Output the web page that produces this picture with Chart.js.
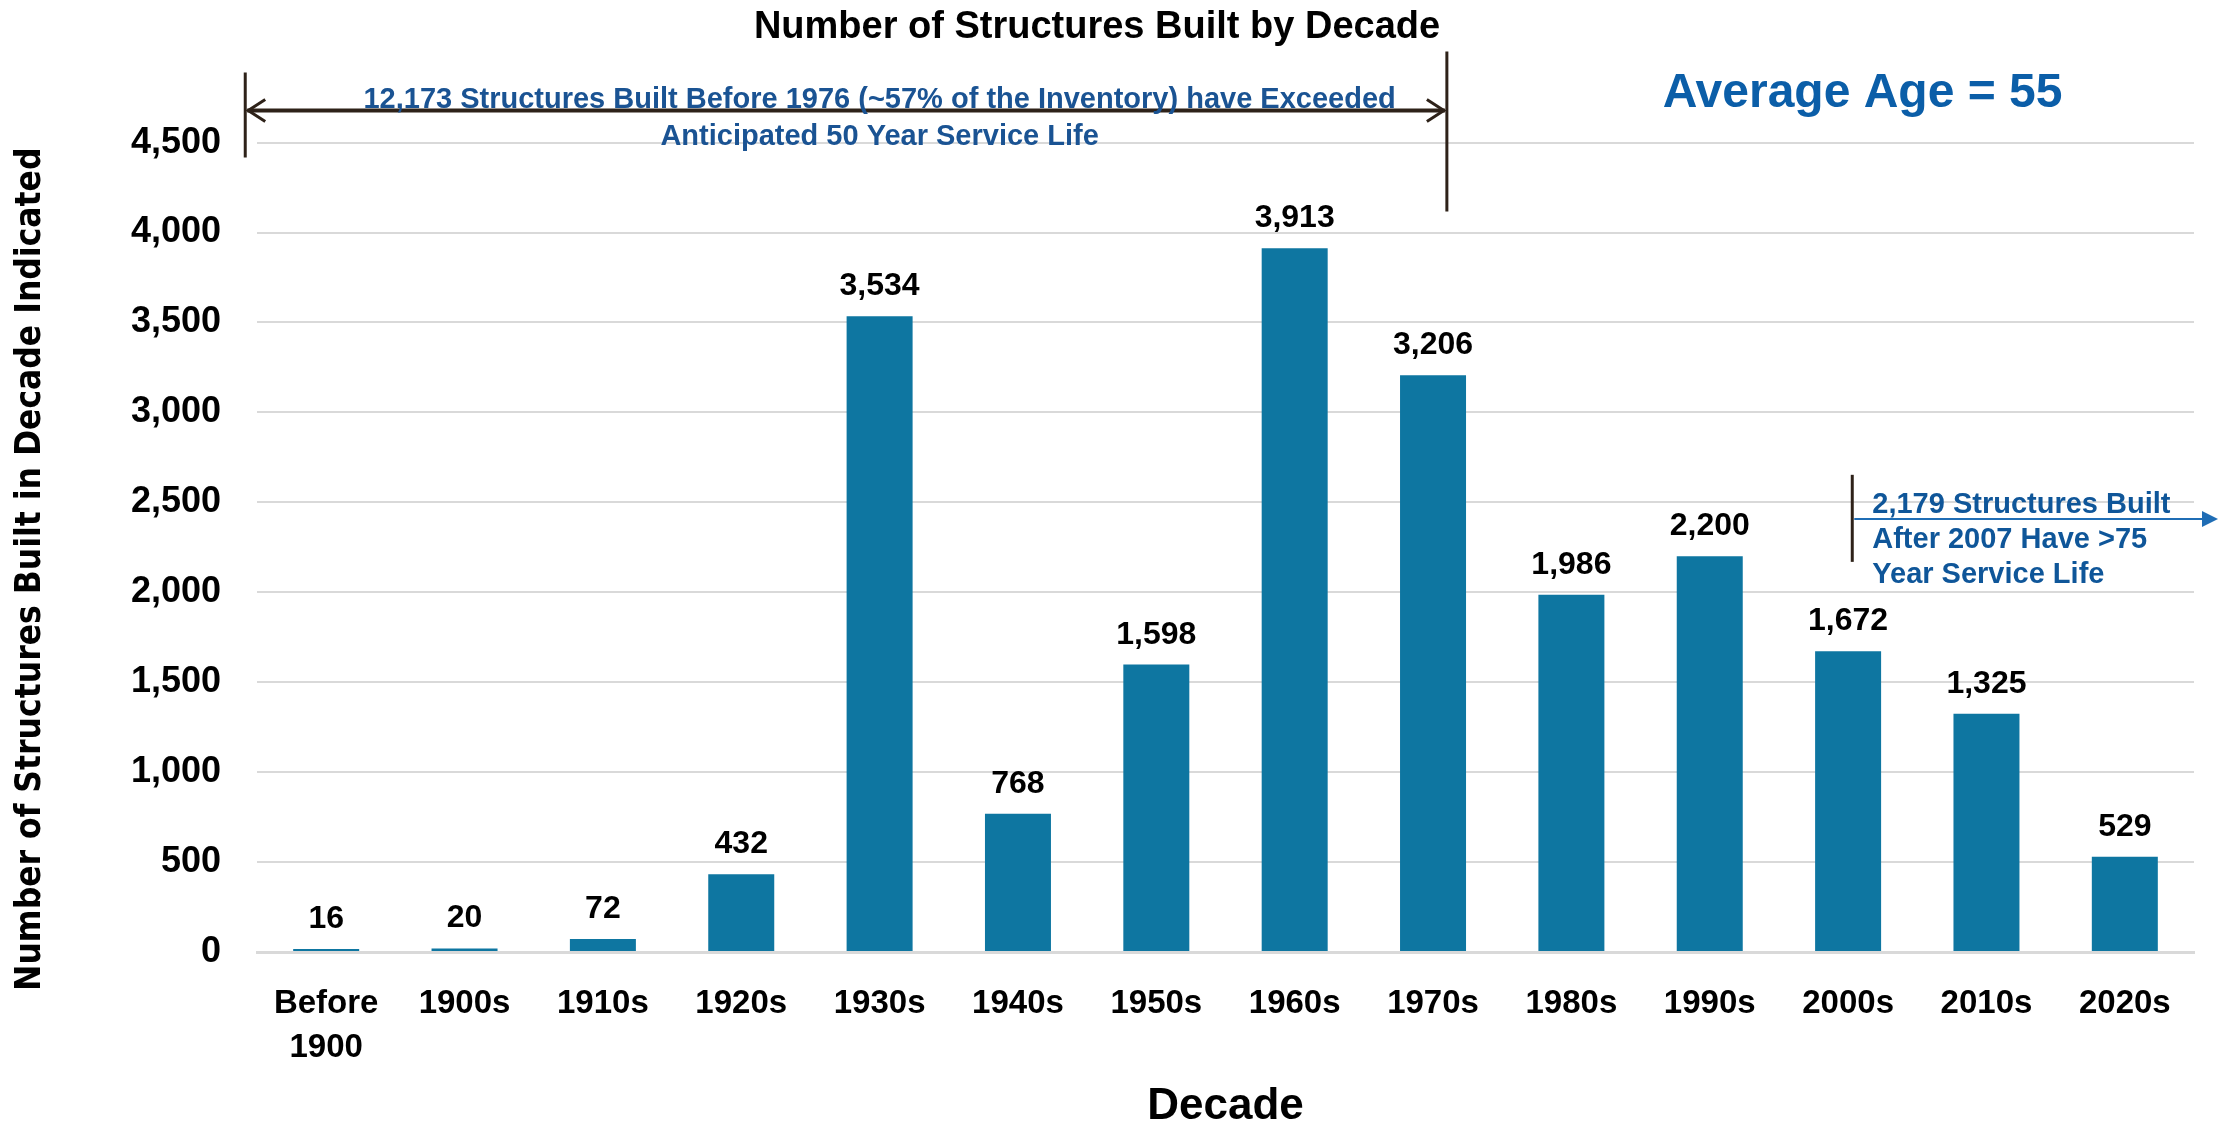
<!DOCTYPE html>
<html>
<head>
<meta charset="utf-8">
<script src="https://cdn.jsdelivr.net/npm/chart.js@4.4.1/dist/chart.umd.min.js"></script>
<style>
  html, body { margin: 0; padding: 0; background: #ffffff; }
  #wrap { width: 2220px; height: 1133px; position: relative; }
</style>
</head>
<body>
<div id="wrap"><canvas id="c"></canvas></div>
<script>
// ---- Data ----
const categories = [['Before', '1900'], '1900s', '1910s', '1920s', '1930s', '1940s', '1950s', '1960s', '1970s', '1980s', '1990s', '2000s', '2010s', '2020s'];
const structuresBuilt = [16, 20, 72, 432, 3534, 768, 1598, 3913, 3206, 1986, 2200, 1672, 1325, 529];
const yTicks = [0, 500, 1000, 1500, 2000, 2500, 3000, 3500, 4000, 4500];
const chartTitle = 'Number of Structures Built by Decade';
const xAxisTitle = 'Decade';
const yAxisTitle = 'Number of Structures Built in Decade Indicated';
const leftNoteLines = ['12,173 Structures Built Before 1976 (~57% of the Inventory) have Exceeded', 'Anticipated 50 Year Service Life'];
const rightNoteLines = ['2,179 Structures Built', 'After 2007 Have >75', 'Year Service Life'];
const averageAgeText = 'Average Age = 55';

const FONT = "'Liberation Sans', Arial, Helvetica, sans-serif";
const NARROW = "'Liberation Sans Narrow', 'Arial Narrow', 'DejaVu Sans Condensed', sans-serif";
const fmt = v => Number(v).toLocaleString('en-US');

const annotations = {
  id: 'annotations',
  afterDatasetsDraw(chart) {
    const { ctx, chartArea, scales: { x, y } } = chart;
    ctx.save();

    // Data labels above bars
    const meta = chart.getDatasetMeta(0);
    ctx.font = 'bold 32px ' + FONT;
    ctx.fillStyle = '#000000';
    ctx.textAlign = 'center';
    ctx.textBaseline = 'alphabetic';
    meta.data.forEach((bar, i) => {
      ctx.fillText(fmt(structuresBuilt[i]), bar.x, bar.y - 21);
    });

    // Left bracket with double arrow
    const top = chartArea.top;
    const xL = x.getPixelForValue(-0.585);
    const xR = x.getPixelForValue(8.1);
    const yArrow = top - 32;
    ctx.strokeStyle = '#2E2219';
    ctx.lineCap = 'butt';
    ctx.lineWidth = 3;
    ctx.beginPath();
    ctx.moveTo(xL, top - 70); ctx.lineTo(xL, top + 15);
    ctx.moveTo(xR, top - 91); ctx.lineTo(xR, top + 69);
    ctx.stroke();
    ctx.lineWidth = 4;
    ctx.beginPath();
    ctx.moveTo(xL + 2, yArrow); ctx.lineTo(xR - 2, yArrow);
    ctx.stroke();
    ctx.lineWidth = 3;
    ctx.beginPath();
    ctx.moveTo(xL + 20, yArrow - 11); ctx.lineTo(xL + 3, yArrow); ctx.lineTo(xL + 20, yArrow + 11);
    ctx.moveTo(xR - 20, yArrow - 11); ctx.lineTo(xR - 3, yArrow); ctx.lineTo(xR - 20, yArrow + 11);
    ctx.stroke();

    // Left note text
    ctx.fillStyle = '#1A5393';
    ctx.font = 'bold 29px ' + FONT;
    ctx.textAlign = 'center';
    const xc = x.getPixelForValue(4);
    ctx.fillText(leftNoteLines[0], xc, top - 35);
    ctx.fillText(leftNoteLines[1], xc, top + 2);

    // Average age
    ctx.fillStyle = '#0B5EA8';
    ctx.font = 'bold 48px ' + FONT;
    ctx.textAlign = 'left';
    ctx.fillText(averageAgeText, x.getPixelForValue(9.66), top - 36);

    // Right note: vertical line + arrow
    const xv = x.getPixelForValue(11.03);
    const yTopV = y.getPixelForValue(2653);
    const yBotV = y.getPixelForValue(2169);
    const yA = y.getPixelForValue(2408);
    ctx.strokeStyle = '#2E2219';
    ctx.lineWidth = 3;
    ctx.beginPath();
    ctx.moveTo(xv, yTopV); ctx.lineTo(xv, yBotV);
    ctx.stroke();
    const tipX = chart.width - 2;
    ctx.strokeStyle = '#1F6DB5';
    ctx.fillStyle = '#1F6DB5';
    ctx.lineWidth = 2;
    ctx.beginPath();
    ctx.moveTo(xv + 2, yA); ctx.lineTo(tipX - 14, yA);
    ctx.stroke();
    ctx.beginPath();
    ctx.moveTo(tipX, yA); ctx.lineTo(tipX - 16, yA - 8); ctx.lineTo(tipX - 16, yA + 8);
    ctx.closePath();
    ctx.fill();

    ctx.fillStyle = '#0F5699';
    ctx.font = 'bold 29px ' + FONT;
    ctx.textAlign = 'left';
    rightNoteLines.forEach((line, i) => {
      ctx.fillText(line, xv + 20, yA - 6 + i * 35);
    });

    ctx.restore();
  }
};

new Chart(document.getElementById('c'), {
  type: 'bar',
  data: {
    labels: categories,
    datasets: [{
      label: 'Structures built',
      data: structuresBuilt,
      backgroundColor: '#0E76A1',
      borderWidth: 0,
      categoryPercentage: 1.0,
      barPercentage: 0.477
    }]
  },
  options: {
    responsive: true,
    maintainAspectRatio: false,
    animation: false,
    layout: { padding: { left: 0, right: 26, top: 0, bottom: 0 } },
    plugins: {
      legend: { display: false },
      tooltip: { enabled: false },
      title: {
        display: true,
        text: chartTitle,
        color: '#000000',
        font: { family: FONT, size: 38, weight: 'bold', lineHeight: 1.2 },
        padding: { top: 5, bottom: 92 }
      }
    },
    scales: {
      x: {
        grid: { display: false, drawTicks: false },
        border: { display: true, color: '#D9D9D9', width: 3 },
        ticks: {
          color: '#000000',
          font: { family: FONT, size: 33, weight: 'bold', lineHeight: 1.36 },
          padding: 29,
          maxRotation: 0,
          autoSkip: false
        },
        title: {
          display: true,
          text: xAxisTitle,
          color: '#000000',
          font: { family: FONT, size: 44, weight: 'bold', lineHeight: 1.2 },
          padding: { top: 10, bottom: 0 }
        },
        afterFit(scale) { scale.height = 181; }
      },
      y: {
        min: 0,
        max: 4500,
        grid: { color: '#D9D9D9', lineWidth: 2, drawTicks: false },
        border: { display: false },
        afterBuildTicks(scale) { scale.ticks = yTicks.map(v => ({ value: v })); },
        ticks: {
          color: '#000000',
          font: { family: FONT, size: 36, weight: 'bold' },
          padding: 36,
          callback: v => fmt(v)
        },
        title: {
          display: true,
          text: yAxisTitle + '    ',
          color: '#000000',
          font: { family: NARROW, size: 35, weight: 'bold', lineHeight: 1.2 },
          padding: { top: 10, bottom: 0 }
        },
        afterFit(scale) { scale.width = 257; }
      }
    }
  },
  plugins: [annotations]
});
</script>
</body>
</html>
